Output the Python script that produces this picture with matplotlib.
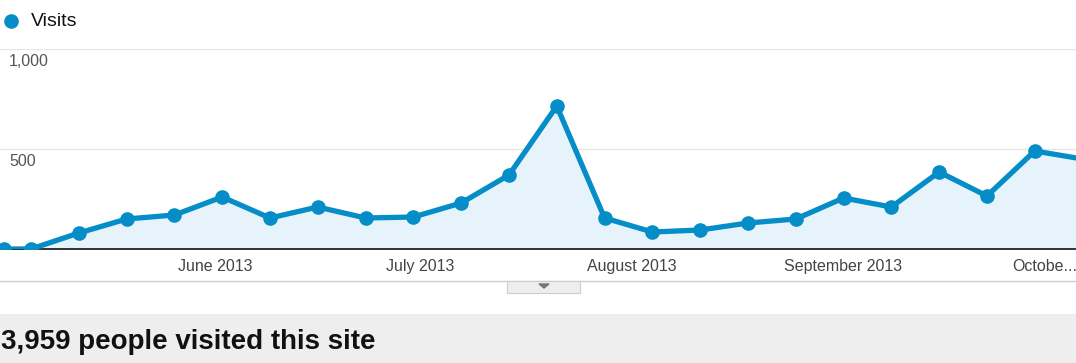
import pandas as pd
import matplotlib
matplotlib.use("Agg")
import matplotlib.pyplot as plt
import matplotlib.transforms as mtransforms
from matplotlib.patches import Rectangle, Polygon

plt.rcParams['font.family'] = ['Liberation Sans', 'DejaVu Sans']

# weekly visits (first point is a partial week)
week_dates = ["2013-05-01"] + list(pd.date_range("2013-05-05", "2013-10-06", freq="7D").strftime("%Y-%m-%d"))
visits = [0, 0, 80, 150, 170, 260, 155, 210, 155, 160, 230, 370, 715,
          155, 85, 95, 130, 150, 255, 210, 385, 265, 490, 450]
month_ticks = ["2013-06-01", "2013-07-01", "2013-08-01", "2013-09-01", "2013-10-01"]
month_labels = ["June 2013", "July 2013", "August 2013", "September 2013", "Octobe..."]
total_text = "3,959 people visited this site"

W, H = 1076, 363
blue = "#058DC7"
fill = "#E7F3FA"

fig = plt.figure(figsize=(W / 100, H / 100), dpi=100)


def fx(px):
    return px / W


def fy(py):
    return 1 - py / H


# main chart area: baseline at y=249, 1000 line at y=49
ax = fig.add_axes([0, fy(249), 1, (249 - 49) / H])
dates = pd.to_datetime(week_dates)
ax.fill_between(dates, visits, 0, color=fill, zorder=1)
ax.plot(dates, visits, color=blue, lw=3.8, marker="o", ms=9.5,
        solid_joinstyle="round", zorder=3)

ax.set_xlim(pd.Timestamp("2013-04-30 11:00"), pd.Timestamp("2013-10-05 01:00"))
ax.set_ylim(0, 1000)
ax.set_yticks([500, 1000])
ax.set_yticklabels([])
ax.grid(axis="y", color="#e6e6e6", lw=1, zorder=0)
ax.tick_params(axis="y", length=0)
ax.set_xticks(pd.to_datetime(month_ticks))
ax.set_xticklabels(month_labels, fontsize=11.5, color="#444444")
ax.tick_params(axis="x", length=0, pad=7)
# last month label is cut short at the right edge, nudge it left
last = ax.get_xticklabels()[-1]
last.set_transform(last.get_transform() + mtransforms.ScaledTranslation(-4 / 100, 0, fig.dpi_scale_trans))
for s in ["top", "left", "right"]:
    ax.spines[s].set_visible(False)
ax.spines["bottom"].set_color("#333333")
ax.spines["bottom"].set_linewidth(1.4)
ax.set_axisbelow(True)

# y labels sit just under their gridlines
for val, lab in [(1000, "1,000"), (500, "500")]:
    ax.text(9 / W, val - 25, lab, transform=ax.get_yaxis_transform(),
            ha="left", va="top", fontsize=11.5, color="#555555")

# legend
fig.add_artist(plt.Line2D([fx(11)], [fy(21)], marker="o", ms=9.5, color=blue, lw=0))
fig.text(fx(31), fy(21), "Visits", ha="left", va="center", fontsize=14, color="#111111")

# divider line with little toggle tab
fig.add_artist(plt.Line2D([0, 1], [fy(281), fy(281)], color="#d0d0d0", lw=1))
fig.patches.append(Rectangle((fx(507), fy(293)), fx(73), 12 / H, transform=fig.transFigure,
                             facecolor="#eeeeee", edgecolor="#cccccc", lw=0.8, zorder=5))
fig.patches.append(Polygon([(fx(539), fy(284)), (fx(549), fy(284)), (fx(544), fy(288))],
                           transform=fig.transFigure, color="#777777", zorder=6))

# summary band at the bottom
fig.patches.append(Rectangle((0, 0), 1, (H - 314) / H, transform=fig.transFigure,
                             facecolor="#eeeeee", edgecolor="none", zorder=0))
fig.text(fx(1), fy(342), total_text, ha="left", va="center", fontsize=20,
         fontweight="bold", color="#111111")

fig.savefig("out.png", dpi=100)
